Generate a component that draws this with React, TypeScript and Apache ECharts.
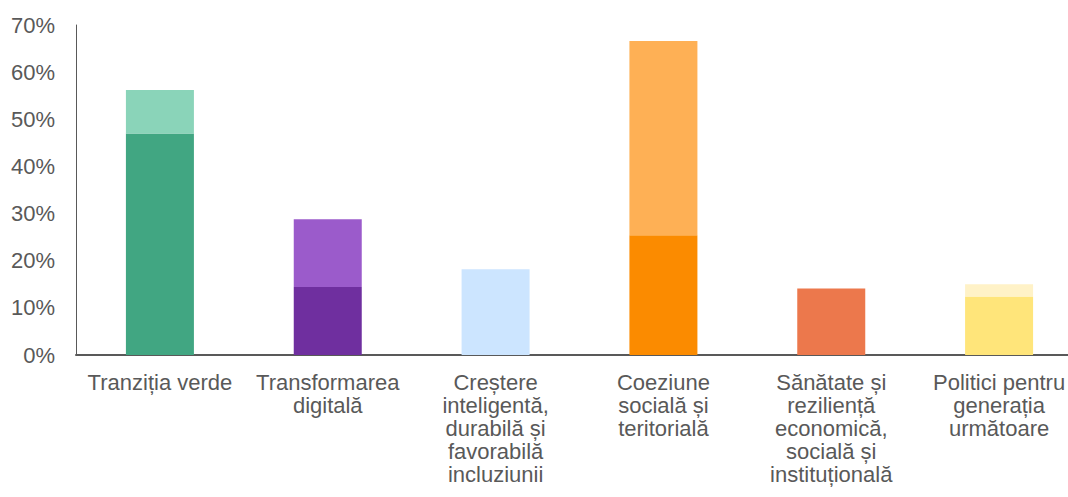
import React, { useEffect, useRef } from "react";
import * as echarts from "echarts";

const categories = [
  "Tranziția verde",
  "Transformarea\ndigitală",
  "Creștere\ninteligentă,\ndurabilă și\nfavorabilă\nincluziunii",
  "Coeziune\nsocială și\nteritorială",
  "Sănătate și\nreziliență\neconomică,\nsocială și\ninstituțională",
  "Politici pentru\ngenerația\nurmătoare",
];
const lowerValues = [47.0, 14.4, 18.2, 25.4, 14.1, 12.4];
const upperValues = [9.2, 14.4, 0, 41.2, 0, 2.6];
const lowerColors = ["#41A682", "#6F2F9F", "#CCE5FF", "#FB8B00", "#EC784C", "#FFE57A"];
const upperColors = ["#8AD4B9", "#9B5BCB", "#CCE5FF", "#FEB055", "#EC784C", "#FFF2C7"];
const yTicks = [0, 70, 10];

export default function App() {
  const ref = useRef<HTMLDivElement>(null);
  useEffect(() => {
    if (!ref.current) return;
    document.body.style.overflow = "hidden";
    const chart = echarts.init(ref.current, undefined, { renderer: "svg" });
    const font = "'Liberation Sans', Arial, sans-serif";
    chart.setOption({
      animation: false,
      backgroundColor: "#ffffff",
      grid: { left: 76, top: 25, bottom: 142, right: 0, containLabel: false },
      xAxis: {
        type: "category",
        data: categories,
        axisLine: { show: true, lineStyle: { color: "#595959", width: 2 } },
        axisTick: { show: false },
        axisLabel: {
          interval: 0,
          color: "#595959",
          fontSize: 22,
          lineHeight: 23,
          fontFamily: font,
          margin: 16,
          align: "center",
          verticalAlign: "top",
        },
      },
      yAxis: {
        type: "value",
        min: yTicks[0],
        max: yTicks[1],
        interval: yTicks[2],
        axisLine: { show: true, lineStyle: { color: "#595959", width: 1 } },
        axisTick: { show: false },
        splitLine: { show: false },
        axisLabel: {
          formatter: "{value}%",
          color: "#595959",
          fontSize: 22,
          fontFamily: font,
          margin: 21,
        },
      },
      series: [
        {
          type: "bar",
          stack: "total",
          barWidth: 68,
          data: lowerValues.map((v, i) => ({ value: v, itemStyle: { color: lowerColors[i] } })),
        },
        {
          type: "bar",
          stack: "total",
          barWidth: 68,
          data: upperValues.map((v, i) => ({ value: v, itemStyle: { color: upperColors[i] } })),
        },
      ],
    });
    return () => chart.dispose();
  }, []);
  return (
    <div
      ref={ref}
      style={{ position: "fixed", left: 0, top: 0, width: 1083, height: 497, background: "#fff" }}
    />
  );
}
